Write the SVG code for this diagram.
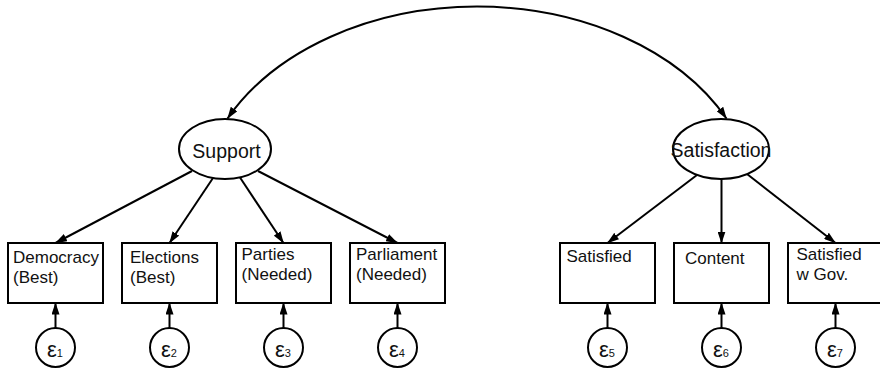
<svg xmlns="http://www.w3.org/2000/svg" width="880" height="370" viewBox="0 0 880 370">
<defs>
<marker id="ah" viewBox="0 0 12 8" refX="11.5" refY="4" markerWidth="12" markerHeight="8" markerUnits="userSpaceOnUse" orient="auto-start-reverse">
<path d="M0,0 L12,4 L0,8 z" fill="#000"/>
</marker>
<style>
.shape{fill:#fff;stroke:#000;stroke-width:2}
.lbl{font-family:"Liberation Sans",Arial,sans-serif;font-size:17px;fill:#111}
.lat{font-family:"Liberation Sans",Arial,sans-serif;font-size:19.5px;fill:#111;text-anchor:middle}
.eps{font-family:"Liberation Sans",Arial,sans-serif;font-size:22px;fill:#111;text-anchor:middle}
.sub{font-size:11px}
.conn{fill:none;stroke:#000;stroke-width:2;marker-end:url(#ah)}
</style>
</defs>
<rect width="880" height="370" fill="#fff"/>

<g id="connectors">
<path class="conn" style="marker-start:url(#ah)" d="M227.5,118.5 A280,205 0 0 1 726.5,118.5"/>
<line class="conn" x1="192" y1="171" x2="55.5" y2="243"/>
<line class="conn" x1="213" y1="178" x2="169.5" y2="243"/>
<line class="conn" x1="240" y1="177.5" x2="283.5" y2="243"/>
<line class="conn" x1="258" y1="171" x2="397.5" y2="243"/>
<line class="conn" x1="697" y1="175" x2="607.5" y2="243"/>
<line class="conn" x1="721.5" y1="179" x2="721.5" y2="243"/>
<line class="conn" x1="747" y1="174" x2="835.5" y2="243"/>
<line class="conn" x1="55.5" y1="328" x2="55.5" y2="303"/>
<line class="conn" x1="169.5" y1="328" x2="169.5" y2="303"/>
<line class="conn" x1="283.5" y1="328" x2="283.5" y2="303"/>
<line class="conn" x1="397.5" y1="328" x2="397.5" y2="303"/>
<line class="conn" x1="607.5" y1="328" x2="607.5" y2="303"/>
<line class="conn" x1="721.5" y1="328" x2="721.5" y2="303"/>
<line class="conn" x1="835.5" y1="328" x2="835.5" y2="303"/>
</g>

<g id="support">
<ellipse class="shape" cx="225" cy="149" rx="46" ry="30"/>
<text class="lat" x="226.5" y="157.5">Support</text>
</g>
<g id="satisfaction">
<ellipse class="shape" cx="721" cy="149" rx="48" ry="30"/>
<text class="lat" x="721" y="157">Satisfaction</text>
</g>

<g id="democracy">
<rect class="shape" x="8" y="243" width="95" height="60"/>
<text class="lbl" x="13" y="263">Democracy</text>
<text class="lbl" x="13" y="283">(Best)</text>
</g>
<g id="elections">
<rect class="shape" x="122" y="243" width="95" height="60"/>
<text class="lbl" x="130" y="263">Elections</text>
<text class="lbl" x="130" y="283">(Best)</text>
</g>
<g id="parties">
<rect class="shape" x="236" y="243" width="95" height="60"/>
<text class="lbl" x="241.5" y="260">Parties</text>
<text class="lbl" x="241.5" y="280">(Needed)</text>
</g>
<g id="parliament">
<rect class="shape" x="350" y="243" width="95" height="60"/>
<text class="lbl" x="356" y="260">Parliament</text>
<text class="lbl" x="356" y="280">(Needed)</text>
</g>
<g id="satisfied">
<rect class="shape" x="560" y="243" width="95" height="60"/>
<text class="lbl" x="566.5" y="262">Satisfied</text>
</g>
<g id="content">
<rect class="shape" x="674" y="243" width="95" height="60"/>
<text class="lbl" x="685" y="264">Content</text>
</g>
<g id="satisfied-gov">
<rect class="shape" x="788" y="243" width="95" height="60"/>
<text class="lbl" x="796.5" y="259.5">Satisfied</text>
<text class="lbl" x="796.5" y="280">w Gov.</text>
</g>

<g id="e1"><circle class="shape" cx="55.5" cy="347.5" r="19.5"/><text class="eps" x="55" y="357">ε<tspan class="sub">1</tspan></text></g>
<g id="e2"><circle class="shape" cx="169.5" cy="347.5" r="19.5"/><text class="eps" x="169" y="357">ε<tspan class="sub">2</tspan></text></g>
<g id="e3"><circle class="shape" cx="283.5" cy="347.5" r="19.5"/><text class="eps" x="283" y="357">ε<tspan class="sub">3</tspan></text></g>
<g id="e4"><circle class="shape" cx="397.5" cy="347.5" r="19.5"/><text class="eps" x="397" y="357">ε<tspan class="sub">4</tspan></text></g>
<g id="e5"><circle class="shape" cx="607.5" cy="347.5" r="19.5"/><text class="eps" x="607" y="357">ε<tspan class="sub">5</tspan></text></g>
<g id="e6"><circle class="shape" cx="721.5" cy="347.5" r="19.5"/><text class="eps" x="721" y="357">ε<tspan class="sub">6</tspan></text></g>
<g id="e7"><circle class="shape" cx="835.5" cy="347.5" r="19.5"/><text class="eps" x="835" y="357">ε<tspan class="sub">7</tspan></text></g>
</svg>
